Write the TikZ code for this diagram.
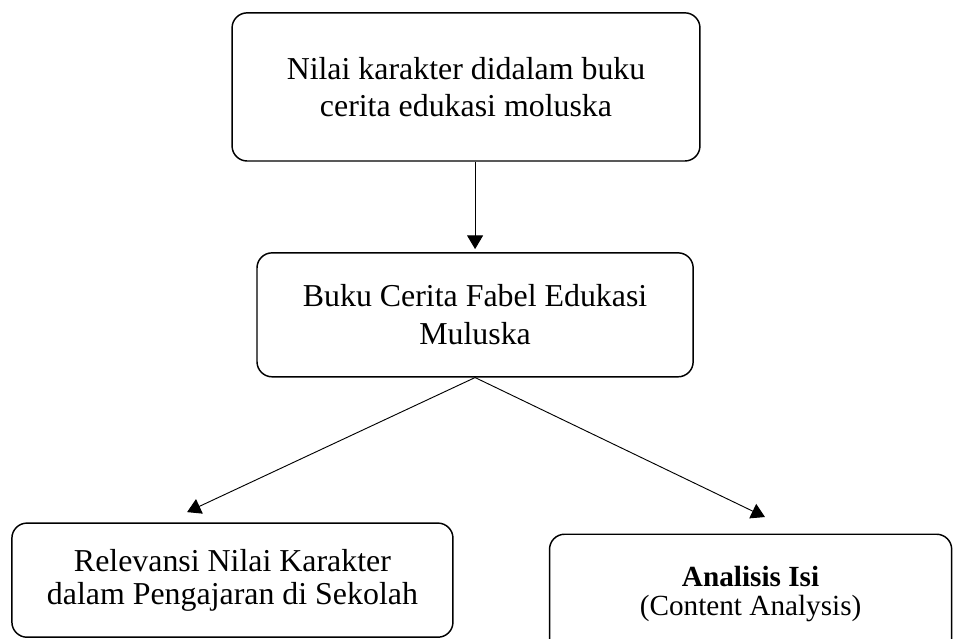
\documentclass[tikz,border=0pt]{standalone}
\usepackage{fontspec}
\setmainfont{Liberation Serif}
\usetikzlibrary{arrows.meta, positioning}

\begin{document}
\begin{tikzpicture}[
    >={Triangle[length=0.36cm, width=0.42cm]},
    box/.style={draw, rectangle, rounded corners=0.4cm, line width=1.1pt, align=center, inner sep=0pt, font=\fontsize{24}{28}\selectfont},
    link/.style={->, line width=0.7pt}
]

\useasboundingbox (0,0) rectangle (25.215,-16.907);

% ----------------------------------------------------
% Level 0 (Source)
% ----------------------------------------------------
\node[box, minimum width=12.38cm, minimum height=3.92cm] (Nilai) at (12.33, -2.30) {Nilai karakter didalam buku\\cerita edukasi moluska};

% ----------------------------------------------------
% Level 1 (Book)
% ----------------------------------------------------
\node[box, minimum width=11.54cm, minimum height=3.28cm, font=\fontsize{24}{29}\selectfont] (Buku) at (12.57, -8.33) {Buku Cerita Fabel Edukasi\\Muluska};

\draw[link, shorten >=0.08cm] (Nilai.south -| Buku.north) -- (Buku.north);

% ----------------------------------------------------
% Level 2 (Relevance vs Method)
% ----------------------------------------------------
\node[box, minimum width=11.67cm, minimum height=3.02cm, font=\fontsize{24}{25}\selectfont] (Relevansi) at (6.15, -15.35) {Relevansi Nilai Karakter\\dalam Pengajaran di Sekolah};
\node[box, minimum width=10.64cm, minimum height=3.17cm, font=\fontsize{22}{22}\selectfont] (Analisis) at (19.86, -15.72) {\textbf{Analisis Isi}\\(Content Analysis)};

% arrow tips stop short of the boxes
\coordinate (tipL) at (4.95, -13.55);
\coordinate (tipR) at (20.24, -13.68);

\draw[link] (Buku.south) -- (tipL);
\draw[link] (Buku.south) -- (tipR);

\end{tikzpicture}
\end{document}
